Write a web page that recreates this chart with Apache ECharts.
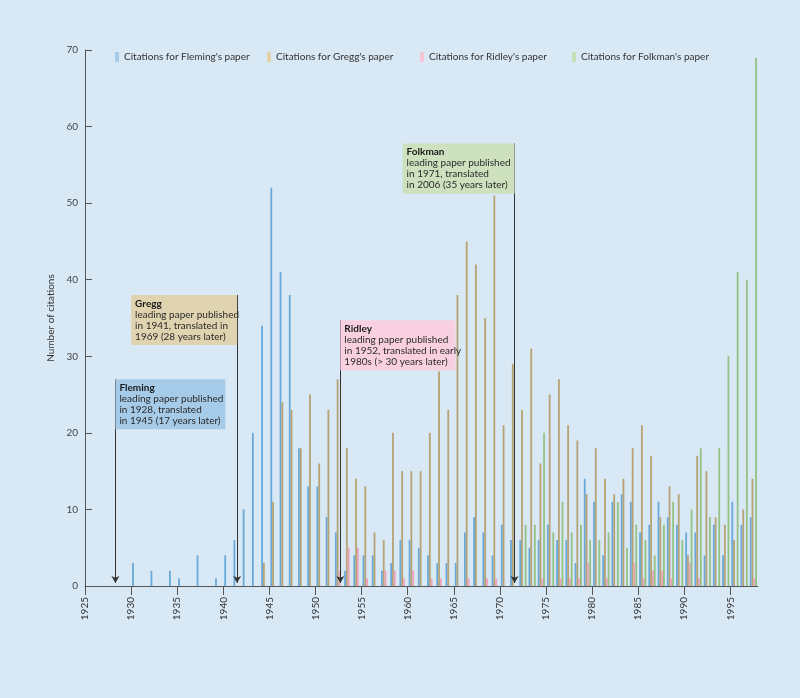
<!DOCTYPE html>
<html>
<head>
<meta charset="utf-8">
<script src="https://cdn.jsdelivr.net/npm/echarts@6/dist/echarts.min.js"></script>
<style>
html, body { margin: 0; padding: 0; background: #d9e8f5; }
#chart { width: 800px; height: 698px; }
</style>
</head>
<body>
<div id="chart"></div>
<script>
// years 1925 - 1997
var years = ['1925','1926','1927','1928','1929','1930','1931','1932','1933','1934',
  '1935','1936','1937','1938','1939','1940','1941','1942','1943','1944',
  '1945','1946','1947','1948','1949','1950','1951','1952','1953','1954',
  '1955','1956','1957','1958','1959','1960','1961','1962','1963','1964',
  '1965','1966','1967','1968','1969','1970','1971','1972','1973','1974',
  '1975','1976','1977','1978','1979','1980','1981','1982','1983','1984',
  '1985','1986','1987','1988','1989','1990','1991','1992','1993','1994',
  '1995','1996','1997'];

var fleming = [0,0,0,0,0, 3,0,2,0,2, 1,0,4,0,1, 4,6,10,20,34,
  52,41,38,18,13, 13,9,7,2,4, 4,4,2,3,6, 6,5,4,3,3,
  3,7,9,7,4, 8,6,6,5,6, 8,6,6,3,14, 11,4,11,12,11,
  7,8,11,9,8, 7,7,4,8,4, 11,8,9];

var gregg = [0,0,0,0,0, 0,0,0,0,0, 0,0,0,0,0, 0,0,0,0,3,
  11,24,23,18,25, 16,23,27,18,14, 13,7,6,20,15, 15,15,20,28,23,
  38,45,42,35,51, 21,29,23,31,16, 25,27,21,19,12, 18,14,12,14,18,
  21,17,9,13,12, 4,17,15,9,8, 6,10,14];

var ridley = [0,0,0,0,0, 0,0,0,0,0, 0,0,0,0,0, 0,0,0,0,0,
  0,0,0,0,0, 0,0,2,5,5, 1,0,2,2,1, 2,0,1,1,0,
  0,1,0,1,1, 0,0,0,0,1, 0,1,1,1,3, 0,1,0,0,3,
  1,2,2,1,0, 3,1,0,0,0, 0,0,1];

var folkman = [0,0,0,0,0, 0,0,0,0,0, 0,0,0,0,0, 0,0,0,0,0,
  0,0,0,0,0, 0,0,0,0,0, 0,0,0,0,0, 0,0,0,0,0,
  0,0,0,0,0, 0,0,8,8,20, 7,11,7,8,6, 6,7,11,5,8,
  6,4,8,11,6, 10,18,9,18,30, 41,40,69];

var seriesNames = ["Citations for Fleming's paper", "Citations for Gregg's paper",
  "Citations for Ridley's paper", "Citations for Folkman's paper"];
var barColors = ['#69a9da', '#b6a273', '#eca2b9', '#93c283'];
var legendColors = ['#a8cbe8', '#e2d3ab', '#f5c5d6', '#c8e0b8'];
var legendLeft = [110, 262, 415, 567];

// annotation boxes: arrow year position, box top (citations), text
var annoX = [1928.3, 1941.5, 1952.7, 1971.6];
var annoTop = [27, 38, 34.7, 57.8];
var annoText = [
  '{b|Fleming}\nleading paper published\nin 1928, translated\nin 1945 (17 years later)',
  '{b|Gregg}\nleading paper published\nin 1941, translated in\n1969 (28 years later)',
  '{b|Ridley}\nleading paper published\nin 1952, translated in early\n1980s (> 30 years later)',
  '{b|Folkman}\nleading paper published\nin 1971, translated\nin 2006 (35 years later)'
];
var annoSide = ['left', 'right', 'left', 'right'];
var annoW = [110, 106, 115, 112];
var annoBg = ['#a6cbe8', '#e0d3af', '#f8d0df', '#cde1be'];

var chart = echarts.init(document.getElementById('chart'));
var yrW = (800 - 85 - 42) / years.length;

var bars = [fleming, gregg, ridley, folkman].map(function (d, i) {
  return {
    name: seriesNames[i],
    type: 'bar',
    xAxisIndex: 0,
    yAxisIndex: 0,
    data: d,
    barWidth: 1.8,
    barGap: '0%',
    itemStyle: { color: barColors[i] }
  };
});

bars.push({
  type: 'line',
  xAxisIndex: 1,
  yAxisIndex: 1,
  data: [],
  silent: true,
  markLine: {
    silent: true,
    animation: false,
    symbol: ['none', 'arrow'],
    symbolSize: [6, 7],
    label: { show: false },
    lineStyle: { color: '#333', width: 1, type: 'solid' },
    data: annoX.map(function (x, i) {
      return [{ coord: [x, annoTop[i]] }, { coord: [x, 0.4] }];
    })
  }
});

// one legend per series so the items sit at fixed spacing
var legends = seriesNames.map(function (n, i) {
  return {
    top: 47,
    left: legendLeft[i],
    icon: 'rect',
    itemWidth: 4,
    itemHeight: 10,
    textStyle: { fontSize: 10, color: '#333' },
    data: [{ name: n, itemStyle: { color: legendColors[i] } }]
  };
});

chart.setOption({
  animation: false,
  backgroundColor: '#d9e8f5',
  textStyle: { fontFamily: 'Lato' },
  legend: legends,
  grid: [
    { left: 85, right: 42, top: 50, bottom: 112 },
    { left: 85, right: 42 + 3 * yrW, top: 50, bottom: 112 }
  ],
  xAxis: [
    {
      type: 'category',
      gridIndex: 0,
      data: years,
      boundaryGap: true,
      axisLine: { lineStyle: { color: '#555' } },
      axisTick: { interval: 0, length: 4, lineStyle: { color: '#555' } },
      axisLabel: { show: false },
      splitLine: { show: false }
    },
    {
      type: 'value',
      gridIndex: 1,
      min: 1925,
      max: 1995,
      interval: 5,
      axisLine: { show: false },
      axisTick: { length: 9, lineStyle: { color: '#555' } },
      axisLabel: {
        rotate: 90, margin: 11, fontSize: 10, color: '#333',
        formatter: function (v) { return String(v); }
      },
      splitLine: { show: false }
    }
  ],
  yAxis: [
    {
      type: 'value',
      gridIndex: 0,
      min: 0,
      max: 70,
      interval: 10,
      name: 'Number of citations',
      nameLocation: 'middle',
      nameGap: 23,
      nameTextStyle: { fontSize: 10, color: '#333' },
      axisLine: { show: true, lineStyle: { color: '#555' } },
      axisTick: { show: true, inside: true, length: 7, lineStyle: { color: '#555' } },
      axisLabel: { fontSize: 10, color: '#444', margin: 7 },
      splitLine: { show: false }
    },
    { type: 'value', gridIndex: 1, min: 0, max: 70, show: false }
  ],
  series: bars
});

// annotation boxes placed from data coords
var boxes = annoText.map(function (t, i) {
  var p = chart.convertToPixel({ xAxisIndex: 1, yAxisIndex: 1 }, [annoX[i], annoTop[i]]);
  var left = annoSide[i] === 'left' ? p[0] : p[0] - annoW[i];
  return {
    type: 'text',
    x: left,
    y: p[1],
    z: 10,
    silent: true,
    style: {
      text: t,
      fill: '#2a2a2a',
      fontSize: 10,
      fontFamily: 'Lato',
      lineHeight: 11,
      backgroundColor: annoBg[i],
      padding: [3, 4, 3, 4],
      width: annoW[i] - 8,
      rich: { b: { fontSize: 10, fontWeight: 'bold', fontFamily: 'Lato', lineHeight: 11, fill: '#1a1a1a' } }
    }
  };
});
chart.setOption({ graphic: boxes });
</script>
</body>
</html>
